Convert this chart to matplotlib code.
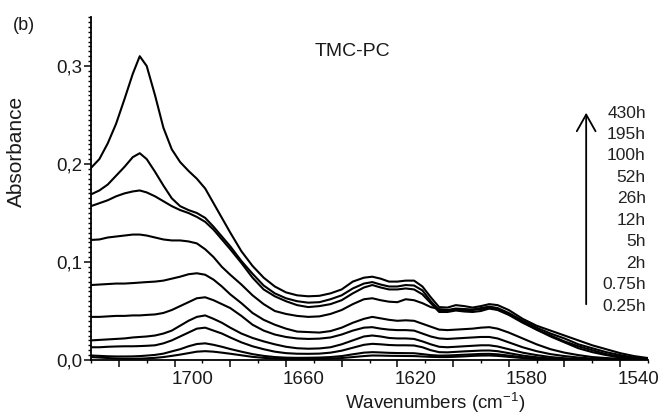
import matplotlib
matplotlib.use("Agg")
import matplotlib.pyplot as plt
import matplotlib.transforms as mtransforms
from matplotlib.ticker import MultipleLocator, FuncFormatter

plt.rcParams['font.family'] = ['Liberation Sans', 'DejaVu Sans']

# ---- datos (10 valores por fila) ----
wavenumbers = [1730, 1727, 1724, 1721, 1718, 1715, 1712.5, 1710, 1707, 1704,
               1701, 1698, 1695, 1692, 1689, 1686, 1683, 1680, 1676, 1672,
               1668, 1664, 1660, 1656, 1652, 1648, 1644, 1640, 1636, 1632,
               1629, 1626, 1623, 1620, 1617, 1614, 1611, 1608, 1605, 1602,
               1599, 1596, 1593, 1590, 1587, 1584, 1580, 1575, 1570, 1565,
               1560, 1555, 1550, 1545, 1540, 1535, 1530]

a_430h = [0.196, 0.205, 0.221, 0.241, 0.266, 0.292, 0.310, 0.300, 0.270, 0.237,
          0.215, 0.202, 0.193, 0.185, 0.175, 0.160, 0.145, 0.130, 0.111, 0.096,
          0.084, 0.075, 0.069, 0.066, 0.065, 0.0655, 0.068, 0.072, 0.080, 0.084,
          0.085, 0.083, 0.080, 0.080, 0.081, 0.081, 0.075, 0.064, 0.054, 0.0535,
          0.056, 0.055, 0.0535, 0.055, 0.057, 0.056, 0.051, 0.042, 0.035, 0.030,
          0.025, 0.020, 0.015, 0.011, 0.007, 0.004, 0.002]
a_195h = [0.169, 0.173, 0.179, 0.188, 0.197, 0.207, 0.211, 0.205, 0.192, 0.178,
          0.165, 0.157, 0.153, 0.150, 0.145, 0.136, 0.126, 0.116, 0.101, 0.088,
          0.076, 0.068, 0.063, 0.060, 0.0585, 0.059, 0.062, 0.066, 0.073, 0.078,
          0.0795, 0.077, 0.075, 0.075, 0.0765, 0.076, 0.071, 0.060, 0.051, 0.051,
          0.0525, 0.052, 0.0515, 0.053, 0.0545, 0.053, 0.048, 0.040, 0.033, 0.027,
          0.022, 0.016, 0.012, 0.008, 0.005, 0.0025, 0.0012]
a_100h = [0.157, 0.160, 0.163, 0.167, 0.170, 0.172, 0.173, 0.171, 0.167, 0.162,
          0.157, 0.153, 0.150, 0.146, 0.141, 0.133, 0.123, 0.113, 0.099, 0.084,
          0.072, 0.065, 0.060, 0.056, 0.054, 0.055, 0.057, 0.061, 0.068, 0.074,
          0.0765, 0.074, 0.072, 0.072, 0.073, 0.072, 0.067, 0.058, 0.049, 0.049,
          0.0505, 0.0495, 0.049, 0.050, 0.0525, 0.051, 0.046, 0.038, 0.031, 0.025,
          0.019, 0.014, 0.010, 0.006, 0.0035, 0.0018, 0.001]
a_52h = [0.1225, 0.123, 0.125, 0.126, 0.127, 0.128, 0.128, 0.127, 0.125, 0.123,
         0.122, 0.122, 0.121, 0.119, 0.113, 0.105, 0.095, 0.087, 0.077, 0.066,
         0.057, 0.050, 0.047, 0.045, 0.044, 0.0445, 0.047, 0.051, 0.057, 0.062,
         0.063, 0.061, 0.0595, 0.059, 0.062, 0.061, 0.058, 0.054, 0.052, 0.051,
         0.051, 0.051, 0.051, 0.052, 0.053, 0.052, 0.047, 0.039, 0.031, 0.024,
         0.018, 0.012, 0.008, 0.005, 0.0025, 0.0012, 0.0005]
a_26h = [0.0765, 0.077, 0.0775, 0.078, 0.078, 0.0785, 0.079, 0.0795, 0.080, 0.081,
         0.083, 0.085, 0.0875, 0.0885, 0.087, 0.082, 0.075, 0.067, 0.058, 0.048,
         0.041, 0.036, 0.032, 0.029, 0.0285, 0.028, 0.0295, 0.033, 0.038, 0.042,
         0.044, 0.0425, 0.041, 0.040, 0.0405, 0.040, 0.037, 0.034, 0.031, 0.0305,
         0.031, 0.0315, 0.032, 0.033, 0.0335, 0.032, 0.028, 0.022, 0.016, 0.011,
         0.0075, 0.005, 0.003, 0.002, 0.0012, 0.0006, 0.0003]
a_12h = [0.044, 0.044, 0.0445, 0.045, 0.045, 0.0455, 0.0455, 0.046, 0.0465, 0.048,
         0.051, 0.055, 0.059, 0.063, 0.064, 0.061, 0.057, 0.053, 0.045, 0.036,
         0.030, 0.026, 0.0235, 0.022, 0.0215, 0.0218, 0.023, 0.026, 0.030, 0.033,
         0.0335, 0.032, 0.031, 0.0305, 0.0305, 0.030, 0.027, 0.024, 0.022, 0.0215,
         0.022, 0.0225, 0.023, 0.0235, 0.0235, 0.022, 0.018, 0.013, 0.009, 0.006,
         0.004, 0.0025, 0.0015, 0.001, 0.0006, 0.0003, 0.0002]
a_5h = [0.020, 0.0205, 0.021, 0.0215, 0.022, 0.023, 0.0235, 0.024, 0.025, 0.027,
        0.030, 0.035, 0.040, 0.044, 0.0455, 0.042, 0.038, 0.033, 0.027, 0.0225,
        0.019, 0.016, 0.0135, 0.012, 0.0115, 0.0118, 0.013, 0.016, 0.020, 0.024,
        0.025, 0.024, 0.0225, 0.022, 0.022, 0.0215, 0.019, 0.016, 0.0135, 0.013,
        0.0135, 0.014, 0.0145, 0.015, 0.015, 0.0138, 0.011, 0.0075, 0.005, 0.003,
        0.0018, 0.001, 0.0006, 0.0004, 0.0002, 0.0001, 0.0]
a_2h = [0.013, 0.013, 0.0135, 0.0138, 0.014, 0.014, 0.0142, 0.0145, 0.015, 0.017,
        0.020, 0.024, 0.028, 0.032, 0.033, 0.030, 0.027, 0.023, 0.018, 0.014,
        0.011, 0.0085, 0.007, 0.0064, 0.0063, 0.0065, 0.0075, 0.0095, 0.0125, 0.0155,
        0.0165, 0.016, 0.0153, 0.015, 0.015, 0.0148, 0.013, 0.010, 0.008, 0.0078,
        0.0083, 0.0088, 0.0092, 0.0096, 0.0097, 0.009, 0.007, 0.0045, 0.0028, 0.0015,
        0.0008, 0.0004, 0.0002, 0.0001, 0.0, 0.0, 0.0]
a_075h = [0.0046, 0.0042, 0.0038, 0.0036, 0.0036, 0.0037, 0.004, 0.0045, 0.0052, 0.0065,
          0.0088, 0.011, 0.014, 0.0163, 0.017, 0.0155, 0.0135, 0.0112, 0.0085, 0.006,
          0.0042, 0.003, 0.0024, 0.0022, 0.0023, 0.0025, 0.003, 0.004, 0.0058, 0.0075,
          0.008, 0.0077, 0.0073, 0.0071, 0.007, 0.0069, 0.006, 0.005, 0.0045, 0.0046,
          0.005, 0.0054, 0.0058, 0.0062, 0.0063, 0.0058, 0.0045, 0.0028, 0.0015, 0.0008,
          0.0004, 0.0002, 0.0001, 0.0, 0.0, 0.0, 0.0]
a_025h = [0.003, 0.0025, 0.002, 0.0015, 0.0013, 0.0013, 0.0014, 0.0017, 0.0022, 0.003,
          0.0042, 0.0055, 0.007, 0.0085, 0.009, 0.0085, 0.0075, 0.0064, 0.0048, 0.0032,
          0.0022, 0.0015, 0.0011, 0.001, 0.001, 0.0011, 0.0014, 0.002, 0.003, 0.004,
          0.0046, 0.0045, 0.0043, 0.0042, 0.0041, 0.004, 0.0036, 0.0032, 0.003, 0.003,
          0.0033, 0.0037, 0.0042, 0.0045, 0.0046, 0.0042, 0.0032, 0.002, 0.001, 0.0005,
          0.0002, 0.0001, 0.0, 0.0, 0.0, 0.0, 0.0]

series = [a_430h, a_195h, a_100h, a_52h, a_26h, a_12h, a_5h, a_2h, a_075h, a_025h]
time_labels = ["430h", "195h", "100h", "52h", "26h", "12h", "5h", "2h", "0.75h", "0.25h"]

# ---- figura ----
fig = plt.figure(figsize=(6.62, 4.16), dpi=100)
ax = fig.add_axes([91 / 662, 56 / 416, 557 / 662, 343 / 416])

for vals in series:
    ax.plot(wavenumbers, vals, color="black", linewidth=1.5, solid_joinstyle="round")

ax.set_xlim(1730, 1530)
ax.set_ylim(0, 0.35)

for side in ("top", "right"):
    ax.spines[side].set_visible(False)
for side in ("left", "bottom"):
    ax.spines[side].set_linewidth(1.3)

ax.xaxis.set_major_locator(MultipleLocator(20))
ax.xaxis.set_minor_locator(MultipleLocator(10))
ax.xaxis.set_major_formatter(FuncFormatter(lambda v, p: f"{v:.0f}" if round(v) % 40 == 20 else ""))
ax.yaxis.set_major_locator(MultipleLocator(0.1))
ax.yaxis.set_minor_locator(MultipleLocator(0.005))
ax.yaxis.set_major_formatter(FuncFormatter(lambda v, p: f"{v:.1f}".replace(".", ",")))

ax.tick_params(which="major", direction="out", length=5, width=1.2, labelsize=13.5, colors="#1a1a1a")
ax.tick_params(which="minor", direction="out", length=2.5, width=1.0)
ax.tick_params(axis="y", which="major", pad=1)
ax.tick_params(axis="x", which="major", pad=3)
shift = mtransforms.ScaledTranslation(-3 / 100, 0, fig.dpi_scale_trans)
for lbl in ax.get_xticklabels():
    lbl.set_horizontalalignment("left")
    lbl.set_transform(lbl.get_transform() + shift)

ax.text(-0.133, 0.609, "Absorbance", transform=ax.transAxes, rotation=90,
        ha="center", va="center", fontsize=15, color="#1a1a1a")
ax.text(0.6176, -0.124, "Wavenumbers (cm$^{\\mathregular{-1}}$)", transform=ax.transAxes,
        ha="center", va="center", fontsize=13.5, color="#1a1a1a")
ax.text(0.4695, 0.898, "TMC-PC", transform=ax.transAxes,
        ha="center", va="center", fontsize=14, color="#1a1a1a")
fig.text(24 / 662, 1 - 25 / 416, "(b)", ha="center", va="center", fontsize=13, color="#1a1a1a")

# flecha de tiempo y etiquetas
ax.annotate("", xy=(0.889, 0.729), xytext=(0.889, 0.1545), xycoords="axes fraction",
            arrowprops=dict(arrowstyle="->,head_length=0.8,head_width=0.45",
                            lw=1.3, color="black", mutation_scale=15))
n = len(time_labels)
for i, lab in enumerate(time_labels):
    y = 0.720 - i * (0.720 - 0.157) / (n - 1)
    ax.text(0.996, y, lab, transform=ax.transAxes, ha="right", va="center",
            fontsize=12.5, color="#222222")

fig.savefig("out.png", dpi=100)
